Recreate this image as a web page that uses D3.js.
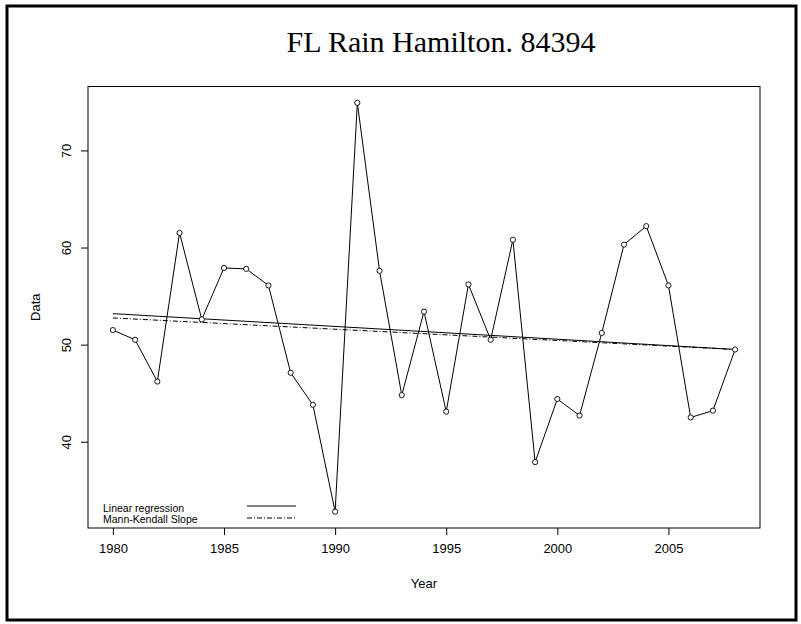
<!DOCTYPE html>
<html>
<head>
<meta charset="utf-8">
<script src="https://cdn.jsdelivr.net/npm/d3@7"></script>
<style>
  html, body { margin: 0; padding: 0; background: #fff; }
  svg { display: block; }
</style>
</head>
<body>
<svg id="chart" width="801" height="624"></svg>
<script>
// ---- Data ----
const years = [1980,1981,1982,1983,1984,1985,1986,1987,1988,1989,1990,1991,1992,1993,1994,
               1995,1996,1997,1998,1999,2000,2001,2002,2003,2004,2005,2006,2007,2008];
const rain = [51.5,50.5,46.2,61.5,52.6,57.9,57.8,56.1,47.1,43.8,32.8,74.9,57.6,44.8,53.4,
              43.1,56.2,50.5,60.8,37.9,44.4,42.7,51.2,60.3,62.2,56.1,42.5,43.2,49.5];
const xTicks = [1980,1985,1990,1995,2000,2005];
const yTicks = [40,50,60,70];
const titleText = "FL Rain Hamilton. 84394";
const xLabel = "Year";
const yLabel = "Data";
const legendLabels = ["Linear regression","Mann-Kendall Slope"];

// ---- Trend lines computed from data ----
const n = years.length;
const mx = d3.mean(years), my = d3.mean(rain);
const lrSlope = d3.sum(years.map((x,i)=>(x-mx)*(rain[i]-my))) / d3.sum(years.map(x=>(x-mx)*(x-mx)));
const lrInt = my - lrSlope*mx;
const pairSlopes = [];
for (let i=0;i<n;i++) for (let j=i+1;j<n;j++) pairSlopes.push((rain[j]-rain[i])/(years[j]-years[i]));
const senSlope = d3.median(pairSlopes);
const senInt = d3.median(years.map((x,i)=>rain[i]-senSlope*x));

// ---- Layout ----
const svg = d3.select("#chart");
const L = 88, R = 760, T = 86.5, B = 528;

const xExt = d3.extent(years), yExt = d3.extent(rain);
const xPad = (xExt[1]-xExt[0])*0.04, yPad = (yExt[1]-yExt[0])*0.04;
const x = d3.scaleLinear().domain([xExt[0]-xPad, xExt[1]+xPad]).range([L, R]);
const y = d3.scaleLinear().domain([yExt[0]-yPad, yExt[1]+yPad]).range([B, T]);

// outer frame
svg.append("rect").attr("x",7).attr("y",6).attr("width",789).attr("height",614)
  .attr("fill","none").attr("stroke","#000").attr("stroke-width",3);

// title
svg.append("text").attr("x",441).attr("y",52).attr("text-anchor","middle")
  .attr("font-family","'Liberation Serif','Times New Roman',serif").attr("font-size",30)
  .attr("fill","#000").text(titleText);

// plot box
svg.append("rect").attr("x",L).attr("y",T).attr("width",R-L).attr("height",B-T)
  .attr("fill","none").attr("stroke","#000").attr("stroke-width",1);

// axes
const xAxis = d3.axisBottom(x).tickValues(xTicks).tickFormat(d3.format("d")).tickSize(7).tickPadding(9);
const gx = svg.append("g").attr("transform",`translate(0,${B})`).call(xAxis);
gx.select(".domain").remove();
gx.selectAll("text").attr("font-family","'Liberation Sans',Arial,sans-serif").attr("font-size",13).attr("fill","#000");

const yAxis = d3.axisLeft(y).tickValues(yTicks).tickSize(7).tickPadding(8);
const gy = svg.append("g").attr("transform",`translate(${L},0)`).call(yAxis);
gy.select(".domain").remove();
gy.selectAll(".tick text")
  .attr("font-family","'Liberation Sans',Arial,sans-serif").attr("font-size",13).attr("fill","#000")
  .attr("text-anchor","middle").attr("dy",null).attr("x",null)
  .attr("transform","translate(-20,0) rotate(-90)").attr("dominant-baseline","middle");

// axis labels
svg.append("text").attr("x",(L+R)/2).attr("y",588).attr("text-anchor","middle")
  .attr("font-family","'Liberation Sans',Arial,sans-serif").attr("font-size",13).text(xLabel);
svg.append("text").attr("transform",`translate(40,${(T+B)/2}) rotate(-90)`).attr("text-anchor","middle")
  .attr("font-family","'Liberation Sans',Arial,sans-serif").attr("font-size",13).text(yLabel);

// data line
const pts = years.map((yr,i)=>[yr,rain[i]]);
svg.append("path").datum(pts)
  .attr("d", d3.line().x(d=>x(d[0])).y(d=>y(d[1])))
  .attr("fill","none").attr("stroke","#000").attr("stroke-width",1);

// trend lines
const x0 = xExt[0], x1 = xExt[1];
svg.append("line").attr("x1",x(x0)).attr("y1",y(lrInt+lrSlope*x0)).attr("x2",x(x1)).attr("y2",y(lrInt+lrSlope*x1))
  .attr("stroke","#000").attr("stroke-width",1);
svg.append("line").attr("x1",x(x0)).attr("y1",y(senInt+senSlope*x0)).attr("x2",x(x1)).attr("y2",y(senInt+senSlope*x1))
  .attr("stroke","#000").attr("stroke-width",1).attr("stroke-dasharray","5,2,1,2");

// points
svg.append("g").selectAll("circle").data(pts).join("circle")
  .attr("cx",d=>x(d[0])).attr("cy",d=>y(d[1])).attr("r",2.6)
  .attr("fill","#fff").attr("stroke","#000").attr("stroke-width",0.9);

// legend
const lg = svg.append("g").attr("font-family","'Liberation Sans',Arial,sans-serif").attr("font-size",10.5);
legendLabels.forEach((lab,i)=>{
  const by = 512 + i*11;
  lg.append("text").attr("x",103).attr("y",by).text(lab);
  lg.append("line").attr("x1",247).attr("x2",296).attr("y1",by-6+i*1).attr("y2",by-6+i*1)
    .attr("stroke","#000").attr("stroke-width",1)
    .attr("stroke-dasharray", i===1 ? "5,2,1,2" : null);
});
</script>
</body>
</html>
